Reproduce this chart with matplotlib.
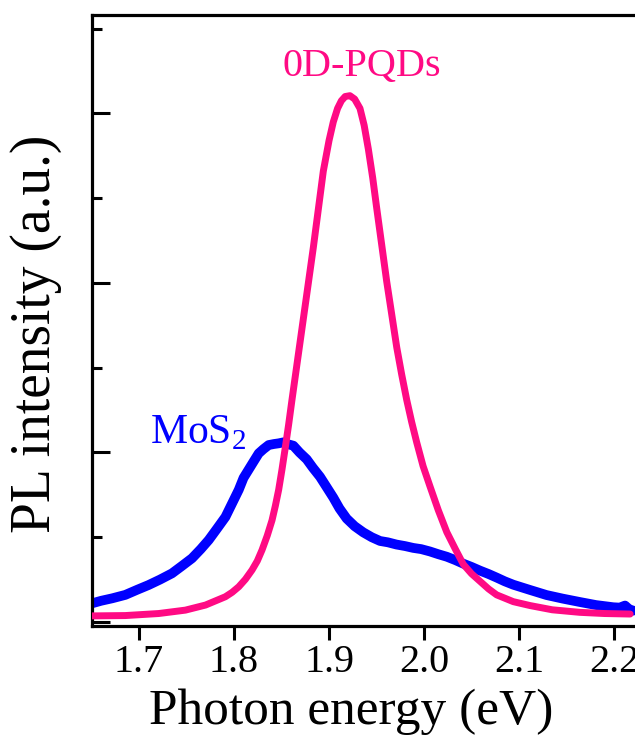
import numpy as np
import matplotlib
matplotlib.use("Agg")
import matplotlib.pyplot as plt
from matplotlib.ticker import MultipleLocator

plt.rcParams["font.family"] = ["Liberation Serif", "DejaVu Serif"]
plt.rcParams["mathtext.fontset"] = "custom"
plt.rcParams["mathtext.rm"] = "Liberation Serif"

# PL of the 0D perovskite quantum dots
pqd_e = [1.6505, 1.6856, 1.7207, 1.7488, 1.770, 1.7909, 1.798, 1.805, 1.812,
         1.819, 1.8245, 1.8295, 1.835, 1.840, 1.8435, 1.847, 1.8505, 1.854,
         1.8575, 1.861, 1.868, 1.8765, 1.8835, 1.894, 1.900, 1.9045, 1.909,
         1.913, 1.917, 1.922, 1.927, 1.9326, 1.937, 1.9414, 1.946, 1.950,
         1.9607, 1.9713, 1.9765, 1.9818, 1.987, 1.9923, 1.999, 2.0063, 2.015,
         2.024, 2.033, 2.0414, 2.050, 2.059, 2.068, 2.0765, 2.094, 2.1116,
         2.135, 2.164, 2.19, 2.217]
pqd_i = [0.036, 0.038, 0.050, 0.070, 0.100, 0.149, 0.175, 0.208, 0.252,
         0.307, 0.36, 0.425, 0.51, 0.60, 0.685, 0.78, 0.90, 1.03,
         1.165, 1.31, 1.59, 1.93, 2.21, 2.66, 2.84, 2.95, 3.03,
         3.075, 3.10, 3.105, 3.085, 3.03, 2.93, 2.79, 2.62, 2.45,
         2.01, 1.62, 1.46, 1.31, 1.18, 1.06, 0.92, 0.80, 0.66,
         0.53, 0.43, 0.34, 0.285, 0.24, 0.195, 0.16, 0.12, 0.097,
         0.072, 0.057, 0.050, 0.047]

# PL of MoS2
mos_e = [1.6505, 1.660, 1.672, 1.6856, 1.698, 1.710, 1.722, 1.7347, 1.745,
         1.7558, 1.765, 1.7734, 1.782, 1.791, 1.798, 1.805, 1.810, 1.8155,
         1.821, 1.826, 1.831, 1.8365, 1.842, 1.847, 1.852, 1.856, 1.8625,
         1.869, 1.8765, 1.883, 1.8905, 1.897, 1.9045, 1.911, 1.9186, 1.927,
         1.936, 1.945, 1.9537, 1.962, 1.971, 1.980, 1.9887, 1.997, 2.0063,
         2.015, 2.024, 2.033, 2.0414, 2.050, 2.059, 2.068, 2.0765, 2.085,
         2.094, 2.111, 2.129, 2.146, 2.164, 2.181, 2.1993, 2.206, 2.2116,
         2.216, 2.2203]
mos_i = [0.11, 0.125, 0.14, 0.16, 0.19, 0.218, 0.25, 0.287, 0.33,
         0.376, 0.43, 0.484, 0.55, 0.62, 0.70, 0.78, 0.85, 0.90,
         0.95, 0.995, 1.02, 1.044, 1.05, 1.054, 1.06, 1.05, 1.04,
         1.00, 0.96, 0.91, 0.857, 0.80, 0.734, 0.67, 0.61, 0.565,
         0.529, 0.50, 0.478, 0.47, 0.457, 0.448, 0.437, 0.43, 0.416,
         0.40, 0.385, 0.365, 0.344, 0.325, 0.303, 0.283, 0.262, 0.24,
         0.22, 0.19, 0.159, 0.138, 0.118, 0.10, 0.087, 0.085, 0.097,
         0.075, 0.067]

pink = "#ff0a84"
blue = "#0000ff"

fig = plt.figure(figsize=(6.35, 7.42), dpi=100)
ax = fig.add_axes([92 / 635, 1 - 626 / 742, 543 / 635, 611 / 742])

ax.plot(mos_e, mos_i, color=blue, lw=7, solid_capstyle="round",
        solid_joinstyle="round", zorder=2)
ax.plot(pqd_e, pqd_i, color=pink, lw=5, solid_capstyle="round",
        solid_joinstyle="round", zorder=3)

ax.set_xlim(1.6505, 2.2221)
ax.set_ylim(-0.0236, 3.581)

ax.xaxis.set_major_locator(MultipleLocator(0.1))
ax.yaxis.set_major_locator(MultipleLocator(1))
ax.yaxis.set_minor_locator(MultipleLocator(0.5))
ax.set_yticklabels([])
ax.tick_params(axis="x", direction="out", length=10, width=2.2, labelsize=29, pad=3)
ax.tick_params(axis="y", which="major", direction="in", length=13, width=2.2)
ax.tick_params(axis="y", which="minor", direction="in", length=7, width=2.2)
ax.tick_params(axis="y", which="both", left=True, right=False)

for s in ["left", "bottom", "top"]:
    ax.spines[s].set_linewidth(2.3)
ax.spines["right"].set_visible(False)

ax.set_xlabel("Photon energy (eV)", fontsize=37)
ax.set_ylabel("PL intensity (a.u.)", fontsize=40)
ax.yaxis.set_label_coords(-0.055, 0.478)
ax.xaxis.set_label_coords(0.478, -0.102)

ax.text(1.935, 3.28, "0D-PQDs", color=pink, fontsize=29, ha="center", va="center")
ax.text(1.762, 1.12, r"MoS$_2$", color=blue, fontsize=30, ha="center", va="center")

plt.savefig("out.png", dpi=100)
